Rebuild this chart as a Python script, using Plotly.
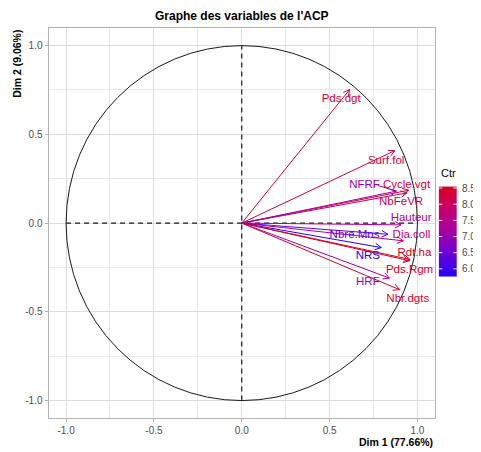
import math
import plotly.graph_objects as go
from plotly.colors import sample_colorscale

# ---- data ----
variables = ["Pds.dgt", "Surf.fol", "Cycle.vgt", "NbFeVR", "NFRF", "Hauteur",
             "Nbre.Mns", "Dia.coll", "NRS", "Rdt.ha", "Pds.Rgm", "HRF", "Nbr.dgts"]
dim1 = [0.614, 0.871, 0.950, 0.940, 0.880, 0.907, 0.832, 0.920, 0.794, 0.955, 0.958, 0.841, 0.898]
dim2 = [0.752, 0.408, 0.185, 0.170, 0.180, -0.010, -0.063, -0.100, -0.138, -0.212, -0.205, -0.310, -0.375]
ctr = [8.36, 8.20, 8.30, 8.10, 7.05, 7.30, 6.30, 7.60, 5.76, 8.50, 8.55, 7.10, 8.40]
label_x = [0.566, 0.822, 0.938, 0.907, 0.699, 0.964, 0.642, 0.966, 0.718, 0.983, 0.955, 0.718, 0.945]
label_y = [0.696, 0.349, 0.212, 0.119, 0.212, 0.030, -0.069, -0.069, -0.186, -0.171, -0.264, -0.334, -0.427]
leader_var = "NFRF"
leader_from = (0.775, 0.212)
ctr_ticks = [6.0, 6.5, 7.0, 7.5, 8.0, 8.5]
axis_ticks = [-1.0, -0.5, 0.0, 0.5, 1.0]
title = "Graphe des variables de l'ACP"
xlab = "Dim 1 (77.66%)"
ylab = "Dim 2 (9.06%)"

# ---- layout geometry (page pixels; the page body adds an 8px offset) ----
OFF = 8
W, H = 481 - OFF, 452 - OFF
def fx(px):   # page x -> paper fraction
    return (px - OFF) / W
def fy(py):   # page y -> paper fraction (from bottom)
    return (H - (py - OFF)) / H

P_L, P_R, P_T, P_B = 48.5, 435.0, 24.0, 418.0        # main panel
CB_L, CB_R, CB_T, CB_B = 438.7, 457.0, 184.0, 275.0  # colour bar
rng = [-1.1, 1.1]
sx = (P_R - P_L) / (rng[1] - rng[0])
sy = (P_B - P_T) / (rng[1] - rng[0])

cscale = [[0.0, "#2400FF"], [0.3, "#7600D0"], [0.55, "#B0009A"], [0.8, "#CC0060"], [1.0, "#D8001E"]]
cmin, cmax = min(ctr), max(ctr)
font = "Liberation Sans, Arial, sans-serif"

def col(v):
    return sample_colorscale(cscale, [(v - cmin) / (cmax - cmin)])[0]

fig = go.Figure()

head_len = 7.0
head_ang = math.radians(28)
for name, x, y, c in zip(variables, dim1, dim2, ctr):
    color = col(c)
    th = math.atan2(y * sy, x * sx)
    hx1 = x - head_len * math.cos(th + head_ang) / sx
    hy1 = y - head_len * math.sin(th + head_ang) / sy
    hx2 = x - head_len * math.cos(th - head_ang) / sx
    hy2 = y - head_len * math.sin(th - head_ang) / sy
    fig.add_trace(go.Scatter(
        x=[0, x, None, hx1, x, hx2], y=[0, y, None, hy1, y, hy2],
        mode="lines", line=dict(color=color, width=1), hoverinfo="skip", showlegend=False))
    if name == leader_var:
        fig.add_trace(go.Scatter(
            x=[leader_from[0], x], y=[leader_from[1], y], mode="lines",
            line=dict(color=color, width=1), hoverinfo="skip", showlegend=False))

fig.add_trace(go.Scatter(
    x=label_x, y=label_y, mode="text", text=variables,
    textfont=dict(family=font, size=11.5, color=[col(c) for c in ctr]),
    hoverinfo="skip", showlegend=False))

# manual colour bar (heatmap on its own axes)
nstep = 200
grad = [cmin + (cmax - cmin) * i / (nstep - 1) for i in range(nstep)]
fig.add_trace(go.Heatmap(
    z=[[v] for v in grad], x=[0], y=grad, colorscale=cscale, zmin=cmin, zmax=cmax,
    showscale=False, hoverinfo="skip", xaxis="x2", yaxis="y2"))
for t in ctr_ticks:
    for x0, x1 in ((-0.5, -0.3), (0.3, 0.5)):
        fig.add_shape(type="line", x0=x0, x1=x1, y0=t, y1=t, xref="x2", yref="y2",
                      line=dict(color="rgba(255,255,255,0.9)", width=1), layer="above")

# circle and dashed axes
fig.add_shape(type="circle", x0=-1, y0=-1, x1=1, y1=1, xref="x", yref="y",
              line=dict(color="black", width=0.9), layer="between")
fig.add_shape(type="line", x0=-1, y0=0, x1=1, y1=0, xref="x", yref="y",
              line=dict(color="#1A1A1A", width=1.2, dash="5px,4px"), layer="between")
fig.add_shape(type="line", x0=0, y0=-1, x1=0, y1=1, xref="x", yref="y",
              line=dict(color="#1A1A1A", width=1.2, dash="5px,4px"), layer="between")

axis_common = dict(
    range=rng, tickvals=axis_ticks, ticktext=[f"{t:.1f}" for t in axis_ticks],
    showgrid=True, gridcolor="#DEDEDE", gridwidth=1,
    minor=dict(dtick=0.25, tick0=0, showgrid=True, gridcolor="#E8E8E8", gridwidth=0.7),
    zeroline=False, showline=True, linecolor="#B3B3B3", linewidth=1, mirror=True,
    ticks="outside", ticklen=3, tickcolor="#B3B3B3", tickwidth=1,
    tickfont=dict(family=font, size=10, color="#4D4D4D"), fixedrange=True)

fig.update_layout(
    width=W, height=H,
    margin=dict(l=0, r=0, t=0, b=0, pad=0),
    paper_bgcolor="white", plot_bgcolor="white",
    xaxis=dict(**axis_common, domain=[fx(P_L), fx(P_R)], anchor="y"),
    yaxis=dict(**axis_common, domain=[fy(P_B), fy(P_T)], anchor="x"),
    xaxis2=dict(domain=[fx(CB_L), fx(CB_R)], anchor="y2", range=[-0.5, 0.5],
                visible=False, fixedrange=True),
    yaxis2=dict(domain=[fy(CB_B), fy(CB_T)], anchor="x2", range=[cmin, cmax], side="right",
                tickvals=ctr_ticks, ticktext=[f"{t:.1f}" for t in ctr_ticks],
                ticks="", showgrid=False, zeroline=False, showline=False,
                ticklabelstandoff=4,
                tickfont=dict(family=font, size=10, color="#4D4D4D"), fixedrange=True),
    showlegend=False,
    annotations=[
        dict(text=f"<b>{title}</b>", x=(fx(P_L) + fx(P_R)) / 2, xref="paper", y=fy(12), yref="paper",
             xanchor="center", yanchor="middle", showarrow=False,
             font=dict(family=font, size=12, color="#000")),
        dict(text=f"<b>{xlab}</b>", x=fx(P_R), xref="paper", y=fy(442), yref="paper",
             xanchor="right", yanchor="middle", showarrow=False,
             font=dict(family=font, size=10.5, color="#000")),
        dict(text=f"<b>{ylab}</b>", x=fx(17), xref="paper", y=fy(P_T), yref="paper",
             xanchor="center", yanchor="top", textangle=-90, showarrow=False,
             font=dict(family=font, size=10.5, color="#000")),
        dict(text="Ctr", x=fx(CB_L), xref="paper", y=fy(CB_T - 5), yref="paper",
             xanchor="left", yanchor="bottom", showarrow=False,
             font=dict(family=font, size=11, color="#000")),
    ],
)

fig.write_html("out.html")
